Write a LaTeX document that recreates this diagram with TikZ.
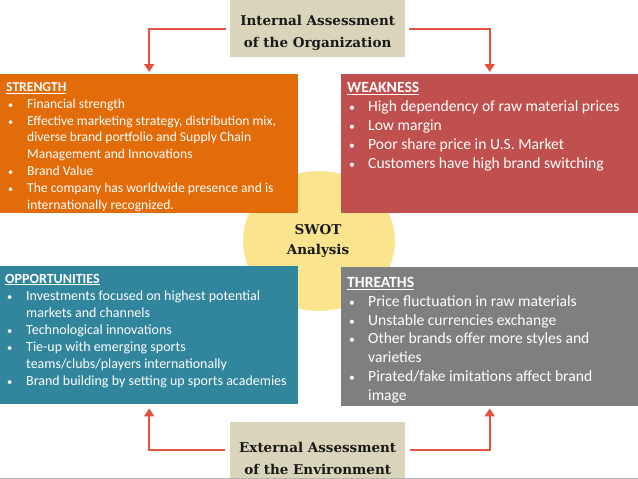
\documentclass[tikz,border=0pt]{standalone}
\usepackage{fontspec}
\setmainfont{Carlito}
\newfontfamily\hdrfont{DejaVu Serif}
\usetikzlibrary{arrows.meta,shapes.geometric}
\definecolor{strC}{RGB}{227,108,10}
\definecolor{wkC}{RGB}{192,80,77}
\definecolor{oppC}{RGB}{49,133,156}
\definecolor{thrC}{RGB}{127,127,127}
\definecolor{beigeC}{RGB}{218,213,186}
\definecolor{yelC}{RGB}{251,228,142}
\definecolor{arrC}{RGB}{226,82,62}
\definecolor{hdrtxt}{RGB}{25,25,25}
\newcommand\swbul{\hspace*{2pt}\makebox[19pt][l]{\scalebox{0.75}{•}}}
\newcommand\swcont{\hspace*{21pt}}
\begin{document}
\begin{tikzpicture}[x=1pt,y=-1pt,
  quad/.style={rectangle, inner sep=0pt, anchor=north west},
  hdr/.style={rectangle, fill=beigeC, anchor=north west, inner sep=0pt},
  hdrtext/.style={align=center, inner sep=0pt,
    font=\hdrfont\bfseries\fontsize{13.5}{22}\selectfont, text=hdrtxt},
  txt/.style={anchor=north west, inner sep=0pt, align=left, text=white},
  arr/.style={draw=arrC, line width=2pt, -{Triangle[width=10pt,length=8pt]}},
]
\useasboundingbox (0,0) rectangle (638,479);
% central ellipse
\node[ellipse, fill=yelC, minimum width=152pt, minimum height=140pt, inner sep=0pt] (swot) at (319,241) {};
\node[hdrtext, font=\hdrfont\bfseries\fontsize{13.5}{19.5}\selectfont] (swott) at (318,241) {SWOT\\Analysis};
% quadrant boxes
\node[quad, fill=strC, minimum width=298pt, minimum height=139pt] (str) at (0,74) {};
\node[quad, fill=wkC, minimum width=297pt, minimum height=139pt] (wk) at (341,74) {};
\node[quad, fill=oppC, minimum width=298pt, minimum height=138pt] (opp) at (0,266) {};
\node[quad, fill=thrC, minimum width=297pt, minimum height=139pt] (thr) at (341,267) {};
% texts
\node[txt, font=\fontsize{13.6}{16.9}\selectfont] (strt) at (6,79.2) {\strut\underline{\textbf{STRENGTH}}\\
\swbul Financial strength\\
\swbul Effective marketing strategy, distribution mix,\\
\swcont diverse brand portfolio and Supply Chain\\
\swcont Management and Innovations\\
\swbul Brand Value\\
\swbul The company has worldwide presence and is\\
\swcont internationally recognized.};
\node[txt, font=\fontsize{15.6}{19}\selectfont] (wkt) at (347,79.2) {\strut\underline{\textbf{WEAKNESS}}\\
\swbul High dependency of raw material prices\\
\swbul Low margin\\
\swbul Poor share price in U.S. Market\\
\swbul Customers have high brand switching};
\node[txt, font=\fontsize{14}{17}\selectfont] (oppt) at (5,271) {\strut\underline{\textbf{OPPORTUNITIES}}\\
\swbul Investments focused on highest potential\\
\swcont markets and channels\\
\swbul Technological innovations\\
\swbul Tie-up with emerging sports\\
\swcont teams/clubs/players internationally\\
\swbul Brand building by setting up sports academies};
\node[txt, font=\fontsize{15.6}{18.9}\selectfont] (thrt) at (347,273.8) {\strut\underline{\textbf{THREATHS}}\\
\swbul Price fluctuation in raw materials\\
\swbul Unstable currencies exchange\\
\swbul Other brands offer more styles and\\
\swcont varieties\\
\swbul Pirated/fake imitations affect brand\\
\swcont image};
% headers
\node[hdr, minimum width=175pt, minimum height=57pt] (top) at (230,0) {};
\node[hdrtext] (topt) at ([yshift=-4pt]top.center) {Internal Assessment\\of the Organization};
\node[hdr, minimum width=175pt, minimum height=57pt] (bot) at (230,422) {};
\node[hdrtext] (bott) at ([yshift=-8pt]bot.center) {External Assessment\\of the Environment};
% arrows
\draw[arr] ([xshift=-4pt]top.west) -| ([yshift=2pt]str.north);
\draw[arr] ([xshift=4pt]top.east) -| ([yshift=2pt]wk.north);
\draw[arr] ([xshift=-5pt,yshift=1pt]bot.west) -| ([yshift=-4pt]opp.south);
\draw[arr] ([xshift=5pt,yshift=1pt]bot.east) -| ([yshift=-2pt]thr.south);
\draw[black!30, line width=1pt] (0,478.5) -- (638,478.5);
\end{tikzpicture}
\end{document}
